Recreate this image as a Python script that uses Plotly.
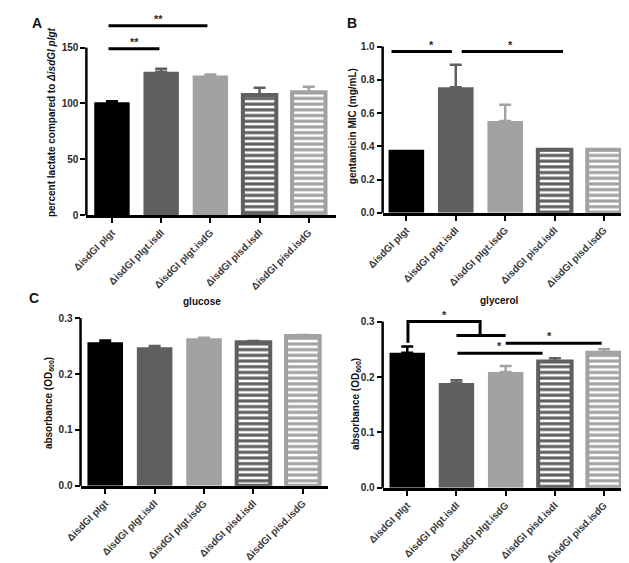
import plotly.graph_objects as go

W, H = 629, 563

categories = ["ΔisdGI pIgt", "ΔisdGI pIgt.isdI", "ΔisdGI pIgt.isdG", "ΔisdGI pisd.isdI", "ΔisdGI pisd.isdG"]

lactate_vals = [101, 128.5, 125, 107.5, 110]
lactate_err = [1.0, 2.5, 1.0, 6.5, 5.0]

mic_vals = [0.38, 0.755, 0.553, 0.38, 0.38]
mic_err = [0.0, 0.135, 0.097, 0.0, 0.0]

glucose_vals = [0.257, 0.248, 0.264, 0.257, 0.268]
glucose_err = [0.003, 0.002, 0.001, 0.002, 0.002]

glycerol_vals = [0.244, 0.189, 0.209, 0.228, 0.244]
glycerol_err = [0.011, 0.005, 0.011, 0.006, 0.006]

bar_colors = ["#000000", "#5f5f5f", "#a2a2a4", "#5f5f5f", "#a2a2a4"]
striped = [False, False, False, True, True]

FONT = "Arial, Liberation Sans, sans-serif"
TXT = "#2a2a2a"

panels = [
    dict(x="x", y="y", vals=lactate_vals, err=lactate_err,
         xd=[64/W, 320/W], yd=[1-209.5/H, 1-5/H], xr=[-0.52, 4.55], ytop=181,
         tv=[0, 50, 100, 150], fmt="d", axtop=150),
    dict(x="x2", y="y2", vals=mic_vals, err=mic_err,
         xd=[368/W, 620/W], yd=[1-207/H, 1-5/H], xr=[-0.48, 4.49], ytop=1.2024,
         tv=[0, 0.2, 0.4, 0.6, 0.8, 1.0], fmt=".1f", axtop=1.0),
    dict(x="x3", y="y3", vals=glucose_vals, err=glucose_err,
         xd=[58/W, 312/W], yd=[1-483/H, 1-305/H], xr=[-0.5, 4.51], ytop=0.315,
         tv=[0, 0.1, 0.2, 0.3], fmt=".1f", axtop=0.3),
    dict(x="x4", y="y4", vals=glycerol_vals, err=glycerol_err,
         xd=[368/W, 622/W], yd=[1-485/H, 1-305/H], xr=[-0.5, 4.53], ytop=0.3214,
         tv=[0, 0.1, 0.2, 0.3], fmt=".1f", axtop=0.3),
]

fig = go.Figure()
layout = dict(
    width=W, height=H, margin=dict(l=0, r=0, t=0, b=0),
    paper_bgcolor="white", plot_bgcolor="white", showlegend=False,
    barmode="overlay", font=dict(family=FONT, color=TXT),
)
shapes = []
annotations = []

for i, p in enumerate(panels):
    n = "" if i == 0 else str(i + 1)
    for j, cat in enumerate(categories):
        col = bar_colors[j]
        if striped[j]:
            marker = dict(color=col, line=dict(color=col, width=4),
                          pattern=dict(shape="-", bgcolor=col, fgcolor="white",
                                       fgopacity=1, size=5.7, solidity=0.45, fillmode="replace"))
            width = 0.68
        else:
            marker = dict(color=col, line=dict(width=0))
            width = 0.72
        fig.add_trace(go.Bar(
            x=[cat], y=[p["vals"][j]], width=width, marker=marker,
            xaxis=p["x"], yaxis=p["y"],
            error_y=dict(type="data", symmetric=False, array=[p["err"][j]], arrayminus=[0],
                         color=col, thickness=2.5, width=6, visible=p["err"][j] > 0),
        ))
    layout["xaxis" + n] = dict(
        domain=p["xd"], anchor=p["y"], range=p["xr"], type="category",
        categoryorder="array", categoryarray=categories,
        showline=True, linecolor="black", linewidth=2.5, ticks="outside",
        ticklen=5, tickwidth=2, tickcolor="black", tickangle=-45,
        tickfont=dict(family=FONT, size=10, color="#3a3a3a", weight="bold"),
        showgrid=False, zeroline=False, fixedrange=True,
    )
    layout["yaxis" + n] = dict(
        domain=p["yd"], anchor=p["x"], range=[0, p["ytop"]],
        tickvals=p["tv"], tickformat=p["fmt"], showline=False,
        ticks="outside", ticklen=5, tickwidth=2, tickcolor="black",
        tickfont=dict(family=FONT, size=10, color=TXT, weight="bold"),
        showgrid=False, zeroline=False, fixedrange=True,
    )
    shapes.append(dict(type="line", xref=p["x"] + " domain", yref=p["y"] + " domain",
                       x0=0, x1=0, y0=0, y1=p["axtop"] / p["ytop"],
                       line=dict(color="black", width=2.5)))

# significance markers (x in category units, y in data units)
sig_A = [([-0.07, 0.965], [149, 149], "**", 0.45, 149), ([-0.07, 1.94], [169.5, 169.5], "**", 0.94, 169.5)]
sig_B = [([-0.30, 0.92], [0.97, 0.97], "*", 0.5, 0.97), ([1.12, 3.17], [0.97, 0.97], "*", 2.1, 0.97)]
sig_D = [
    ([0.015, 0.015, 1.48, 1.48], [0.262, 0.3, 0.3, 0.275], "*", 0.75, 0.3),
    ([1.0, 2.0], [0.275, 0.275], None, None, None),
    ([1.02, 2.75], [0.243, 0.243], "*", 1.88, 0.243),
    ([2.0, 3.95], [0.261, 0.261], "*", 2.9, 0.261),
]
for (xa, ya), sigs in [(("x", "y"), sig_A), (("x2", "y2"), sig_B), (("x4", "y4"), sig_D)]:
    for xsv, ysv, star, sx, sy in sigs:
        path = "M " + " L ".join(f"{a},{b}" for a, b in zip(xsv, ysv))
        shapes.append(dict(type="path", xref=xa, yref=ya, path=path,
                           line=dict(color="black", width=3)))
        if star:
            annotations.append(dict(x=sx, y=sy, xref=xa, yref=ya, text=star, showarrow=False,
                                    yanchor="bottom", yshift=-1,
                                    font=dict(family=FONT, size=11, color=TXT, weight="bold")))

def pa(x, y, text, size, angle=0):
    annotations.append(dict(x=x / W, y=1 - y / H, xref="paper", yref="paper", text=text,
                            showarrow=False, textangle=angle, xanchor="center", yanchor="middle",
                            font=dict(family=FONT, size=size, color="#111", weight="bold")))

pa(13, 15, "A", 14)
pa(337, 15, "B", 14)
pa(10, 293, "C", 14)
pa(28, 115, "percent lactate compared to <i>ΔisdGI pIgt</i>", 10, -90)
pa(337, 119, "gentamicin MIC (mg/mL)", 10, -90)
pa(25, 399, "absorbance (OD<sub>600</sub>)", 10, -90)
pa(340, 400, "absorbance (OD<sub>600</sub>)", 10, -90)
pa(183, 297, "glucose", 10)
pa(488, 296, "glycerol", 10)

layout["shapes"] = shapes
layout["annotations"] = annotations
fig.update_layout(**layout)
fig.write_html("out.html")
